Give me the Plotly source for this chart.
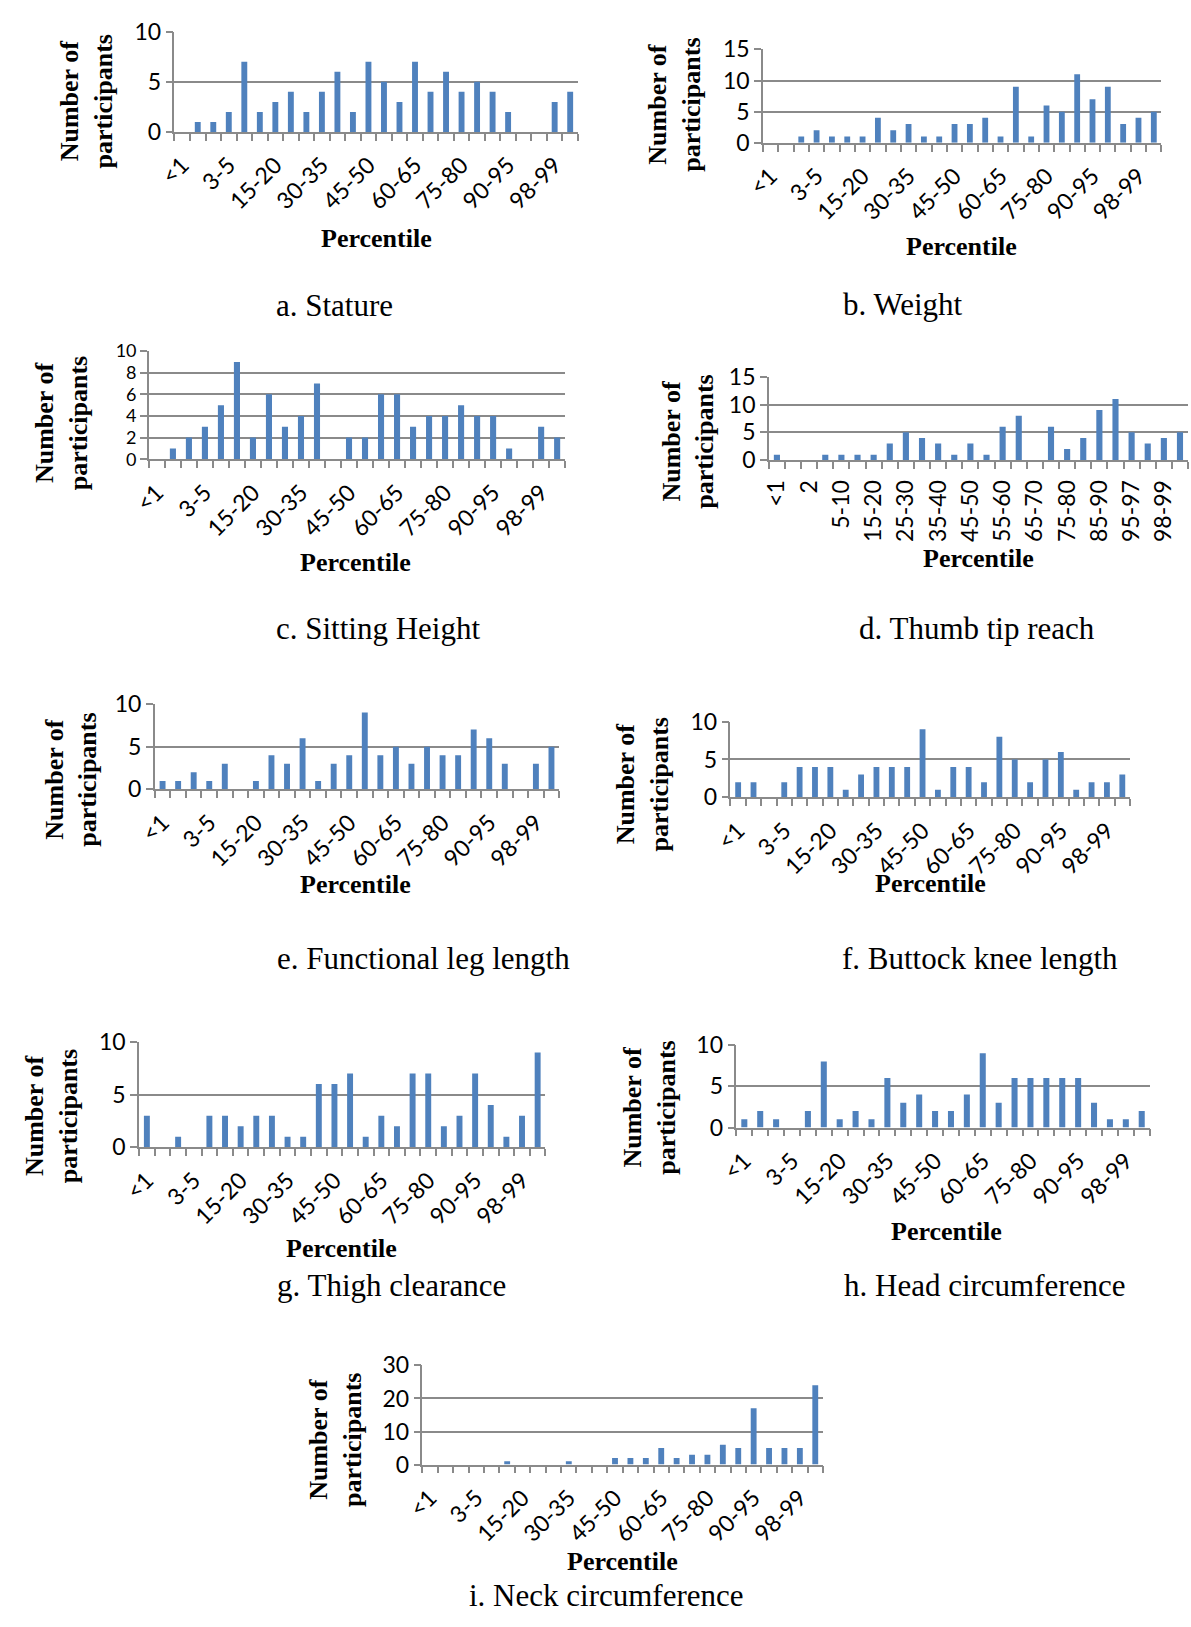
import plotly.graph_objects as go

# ---------------- data ----------------
categories = ["<1", "1", "2", "3-5", "5-10", "10-15", "15-20", "20-25", "25-30", "30-35",
              "35-40", "40-45", "45-50", "50-55", "55-60", "60-65", "65-70", "70-75",
              "75-80", "80-85", "85-90", "90-95", "95-97", "97-98", "98-99", ">99"]

stature = [0, 1, 1, 2, 7, 2, 3, 4, 2, 4, 6, 2, 7, 5, 3, 7, 4, 6, 4, 5, 4, 2, 0, 0, 3, 4]
weight = [0, 0, 1, 2, 1, 1, 1, 4, 2, 3, 1, 1, 3, 3, 4, 1, 9, 1, 6, 5, 11, 7, 9, 3, 4, 5]
sitting_height = [0, 1, 2, 3, 5, 9, 2, 6, 3, 4, 7, 0, 2, 2, 6, 6, 3, 4, 4, 5, 4, 4, 1, 0, 3, 2]
thumb_tip_reach = [1, 0, 0, 1, 1, 1, 1, 3, 5, 4, 3, 1, 3, 1, 6, 8, 0, 6, 2, 4, 9, 11, 5, 3, 4, 5]
functional_leg_length = [1, 1, 2, 1, 3, 0, 1, 4, 3, 6, 1, 3, 4, 9, 4, 5, 3, 5, 4, 4, 7, 6, 3, 0, 3, 5]
buttock_knee_length = [2, 2, 0, 2, 4, 4, 4, 1, 3, 4, 4, 4, 9, 1, 4, 4, 2, 8, 5, 2, 5, 6, 1, 2, 2, 3]
thigh_clearance = [3, 0, 1, 0, 3, 3, 2, 3, 3, 1, 1, 6, 6, 7, 1, 3, 2, 7, 7, 2, 3, 7, 4, 1, 3, 9]
head_circumference = [1, 2, 1, 0, 2, 8, 1, 2, 1, 6, 3, 4, 2, 2, 4, 9, 3, 6, 6, 6, 6, 6, 3, 1, 1, 2]
neck_circumference = [0, 0, 0, 0, 0, 1, 0, 0, 0, 1, 0, 0, 2, 2, 2, 5, 2, 3, 3, 6, 5, 17, 5, 5, 5, 24]

captions = ["a. Stature", "b. Weight", "c. Sitting Height", "d. Thumb tip reach",
            "e. Functional leg length", "f. Buttock knee length", "g. Thigh clearance",
            "h. Head circumference", "i. Neck circumference"]
series = [stature, weight, sitting_height, thumb_tip_reach, functional_leg_length,
          buttock_knee_length, thigh_clearance, head_circumference, neck_circumference]
y_max = [10, 15, 10, 15, 10, 10, 10, 10, 30]
y_step = [5, 5, 2, 5, 5, 5, 5, 5, 10]
label_step = [3, 3, 3, 2, 3, 3, 3, 3, 3]

# ---------------- layout (pixels) ----------------
W, H = 1191, 1627
# plot box: x0, x1, ytop, ybottom
boxes = [(158, 568, 17, 119), (756, 1161, 35, 130), (132, 555, 342, 452), (762, 1188, 368, 453),
         (138, 549, 701, 788), (723, 1129, 719, 796), (122, 535, 1045, 1152), (729, 1149, 1048, 1132),
         (410, 817, 1374, 1475)]
ytitle_pos = [(69, 88), (666, 91), (44, 415), (680, 434), (53, 778), (634, 783), (33, 1120),
              (641, 1112), (321, 1450)]
pct_pos = [(363, 227), (958, 236), (342, 557), (975, 553), (342, 885), (926, 884), (328, 1255),
           (943, 1238), (613, 1574)]
cap_pos = [(321, 296), (898, 295), (365, 624), (974, 624), (411, 960), (977, 960), (379, 1293),
           (981, 1293), (597, 1608)]

GRAY = "#8a8a8a"
BLUE = "#4F81BD"
SANS = "Lato, 'Open Sans', sans-serif"
SERIF = "'Liberation Serif', 'Times New Roman', serif"
TICK_SIZE = 23

fig = go.Figure()
layout = {}
annotations = []
xs = list(range(len(categories)))

for i, vals in enumerate(series):
    n = i + 1
    xa = "x" if n == 1 else f"x{n}"
    ya = "y" if n == 1 else f"y{n}"
    xkey = "xaxis" if n == 1 else f"xaxis{n}"
    ykey = "yaxis" if n == 1 else f"yaxis{n}"
    x0, x1, yt, yb = boxes[i]
    fig.add_trace(go.Bar(x=xs, y=vals, xaxis=xa, yaxis=ya, width=0.38,
                         marker=dict(color=BLUE, line=dict(width=0)), showlegend=False))
    step = label_step[i]
    tv = [k for k in xs if k % step == 0]
    layout[xkey] = dict(
        domain=[x0 / W, x1 / W], anchor=ya, range=[-0.5, len(categories) - 0.5],
        tickmode="array", tickvals=tv, ticktext=[categories[k] for k in tv],
        tickangle=-90 if step == 2 else -45,
        ticks="outside", ticklen=9, tickcolor="rgba(0,0,0,0)",
        minor=dict(tickmode="array", tickvals=[k - 0.5 for k in range(len(categories) + 1)],
                   ticks="outside", ticklen=7, tickcolor=GRAY, tickwidth=1.5, showgrid=False),
        showgrid=False, zeroline=False, showline=True, linecolor=GRAY, linewidth=1.5,
        tickfont=dict(family=SANS, size=TICK_SIZE, color="#000"), fixedrange=True)
    layout[ykey] = dict(
        domain=[1 - yb / H, 1 - yt / H], anchor=xa, range=[0, y_max[i]],
        tick0=0, dtick=y_step[i], showgrid=True, gridcolor=GRAY, gridwidth=1.5,
        zeroline=False, showline=True, linecolor=GRAY, linewidth=1.5,
        ticks="outside", ticklen=7, tickcolor=GRAY, tickwidth=1.5,
        tickfont=dict(family=SANS, size=TICK_SIZE if y_step[i] != 2 else 18, color="#000"),
        fixedrange=True)
    tx, ty = ytitle_pos[i]
    annotations.append(dict(text="<b>Number of<br>participants</b>", textangle=-90,
                            x=tx / W, y=1 - ty / H, xref="paper", yref="paper",
                            xanchor="center", yanchor="middle", showarrow=False,
                            font=dict(family=SERIF, size=26, color="#000")))
    px, py = pct_pos[i]
    annotations.append(dict(text="<b>Percentile</b>", x=px / W, y=1 - py / H,
                            xref="paper", yref="paper", xanchor="center", yanchor="middle",
                            showarrow=False, font=dict(family=SERIF, size=26, color="#000")))
    cx, cy = cap_pos[i]
    annotations.append(dict(text=captions[i], x=cx / W, y=1 - cy / H,
                            xref="paper", yref="paper", xanchor="center", yanchor="middle",
                            showarrow=False, font=dict(family=SERIF, size=31, color="#000")))

fig.update_layout(width=W, height=H, margin=dict(l=0, r=0, t=0, b=0),
                  paper_bgcolor="white", plot_bgcolor="white", bargap=0.6,
                  annotations=annotations, **layout)

fig.write_html("out.html", config={"displayModeBar": False},
               post_script="document.body.style.margin='0px';document.body.style.overflow='hidden';")
